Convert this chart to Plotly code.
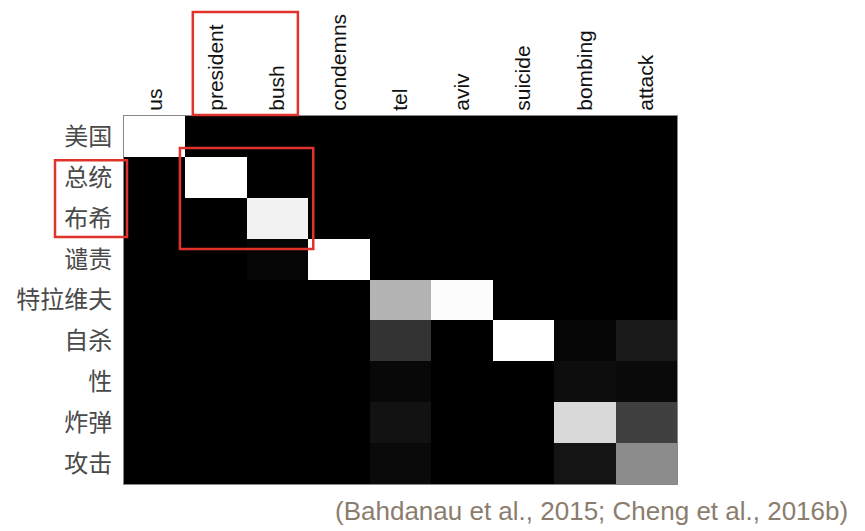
import plotly.graph_objects as go

src_words = ["us", "president", "bush", "condemns", "tel", "aviv", "suicide", "bombing", "attack"]
tgt_words = ["美国", "总统", "布希", "谴责", "特拉维夫", "自杀", "性", "炸弹", "攻击"]

# attention weights (rows = target words, cols = source words)
r_meiguo   = [1.00, 0, 0, 0, 0, 0, 0, 0, 0]
r_zongtong = [0, 1.00, 0, 0, 0, 0, 0, 0, 0]
r_buxi     = [0, 0, 0.95, 0, 0, 0, 0, 0, 0]
r_qianze   = [0, 0, 0.02, 1.00, 0, 0, 0, 0, 0]
r_telaweifu = [0, 0, 0, 0, 0.70, 0.99, 0, 0, 0]
r_zisha    = [0, 0, 0, 0, 0.20, 0, 1.00, 0.02, 0.10]
r_xing     = [0, 0, 0, 0, 0.03, 0, 0, 0.05, 0.04]
r_zhadan   = [0, 0, 0, 0, 0.07, 0, 0, 0.85, 0.25]
r_gongji   = [0, 0, 0, 0, 0.04, 0, 0, 0.08, 0.55]

z = [r_meiguo, r_zongtong, r_buxi, r_qianze, r_telaweifu, r_zisha, r_xing, r_zhadan, r_gongji]

citation = "(Bahdanau et al., 2015; Cheng et al., 2016b)"

fig = go.Figure(go.Heatmap(
    z=z, x=list(range(len(src_words))), y=list(range(len(tgt_words))),
    colorscale=[[0, "#000000"], [1, "#ffffff"]], zmin=0, zmax=1,
    showscale=False, hoverinfo="skip",
))

W, H = 865, 531
OFF = 8  # page body margin


def px(x):
    return (x - OFF) / W


def py(y):
    return 1 - (y - OFF) / H


fig.update_layout(
    width=W, height=H,
    margin=dict(l=0, r=0, t=0, b=0),
    paper_bgcolor="white", plot_bgcolor="white",
    xaxis=dict(domain=[px(124), px(677)], side="top", tickmode="array",
               tickvals=list(range(len(src_words))), ticktext=src_words,
               tickangle=-90, tickfont=dict(family="Liberation Sans", size=21, color="#111"),
               showgrid=False, zeroline=False, showline=True, linecolor="#888",
               linewidth=1, mirror=True, ticks="", range=[-0.5, 8.5]),
    yaxis=dict(domain=[py(484), py(116)], tickmode="array",
               tickvals=list(range(len(tgt_words))), ticktext=tgt_words,
               tickfont=dict(family="Noto Sans CJK SC", size=24, color="#4a4a4a"),
               showgrid=False, zeroline=False, showline=True, linecolor="#888",
               linewidth=1, mirror=True, ticks="", range=[8.5, -0.5],
               ticklabelstandoff=6),
)

red = "#e0332b"
fig.add_shape(type="rect", xref="x", yref="paper", x0=0.62, x1=2.33,
              y0=py(115), y1=py(12), line=dict(color=red, width=2.5))
fig.add_shape(type="rect", xref="x", yref="y", x0=0.41, x1=2.58,
              y0=0.28, y1=2.75, line=dict(color=red, width=2.5))
fig.add_shape(type="rect", xref="paper", yref="y", x0=px(55), x1=px(127),
              y0=0.58, y1=2.46, line=dict(color=red, width=2.5))

fig.add_annotation(text=citation, xref="paper", yref="paper",
                   x=px(850), y=py(511), xanchor="right", yanchor="middle",
                   showarrow=False,
                   font=dict(family="Liberation Sans", size=26, color="#8b7d6e"))

fig.write_html("out.html")
